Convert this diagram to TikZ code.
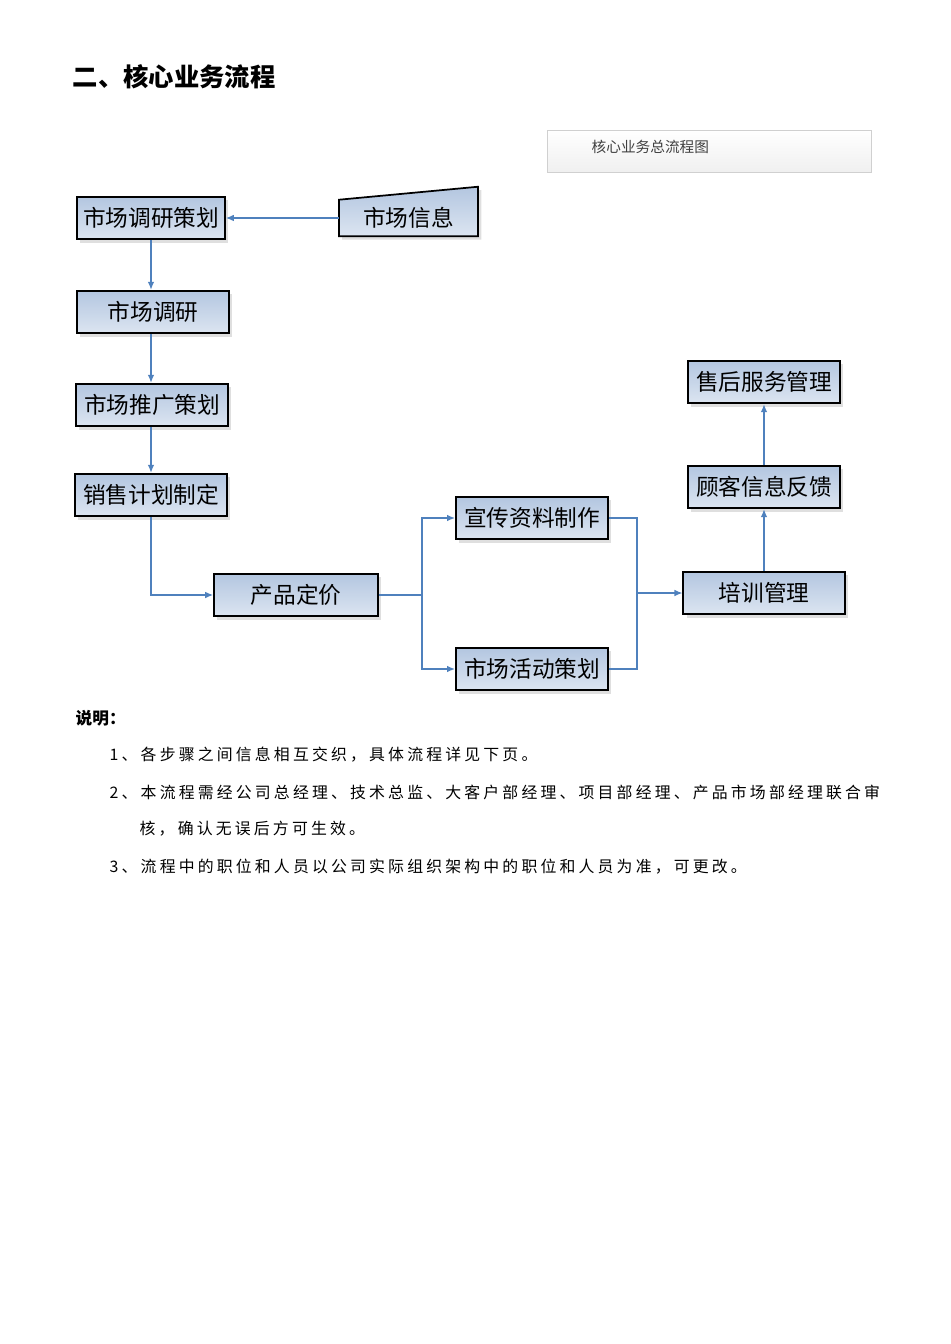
\documentclass[tikz,border=0pt]{standalone}
\usepackage{fontspec}
\setmainfont{Noto Sans CJK SC}
\newfontfamily\notefont[LetterSpace=20]{Noto Sans CJK SC}
\usepackage{tikz}
\usetikzlibrary{shapes,arrows.meta,positioning,shadows,calc}

\definecolor{flowline}{HTML}{4F81BD}
\definecolor{boxtop}{HTML}{B3C6E0}
\definecolor{boxbot}{HTML}{DCE5F1}
\definecolor{headgray}{HTML}{D0D0D0}

\begin{document}
\begin{tikzpicture}[
    x=0.75pt, y=-0.75pt,
    stepbox/.style={draw, line width=1.3pt, top color=boxtop, bottom color=boxbot,
        minimum width=114pt, minimum height=32pt, inner sep=0pt,
        font=\fontsize{17}{20}\selectfont,
        drop shadow={shadow xshift=2.5pt, shadow yshift=-2.5pt, opacity=0.25}},
    flow/.style={draw=flowline, line width=1pt, -{Latex[length=6pt,width=5pt]}},
    link/.style={draw=flowline, line width=1.4pt}
]
\useasboundingbox (0,0) rectangle (950,1344);

% title and header
\node[anchor=west, font=\fontsize{19}{22}\selectfont\bfseries] (title) at (68,77) {二、核心业务流程};
\node[draw=headgray, top color=white, bottom color=gray!12, minimum width=243pt, minimum height=31.5pt] (head) at (709,151) {};
\node[anchor=west, text=black!75, font=\fontsize{11}{13}\selectfont] (headtxt) at (587,147) {核心业务总流程图};

% left column
\node[stepbox, minimum width=111pt] (plan) at (151,218) {市场调研策划};
\node[stepbox] (research) at (153,312) {市场调研};
\node[stepbox] (promo) at (152,405) {市场推广策划};
\node[stepbox] (sales) at (151,495) {销售计划制定};

% market info (manual input shape)
\node[minimum width=104pt, minimum height=27pt, inner sep=0pt] (info) at (408.5,218) {};
\path[draw, line width=1.3pt, top color=boxtop, bottom color=boxbot,
      drop shadow={shadow xshift=2.5pt, shadow yshift=-2.5pt, opacity=0.25}]
    (info.south west) -- (info.north west) -- ([yshift=9.75pt]info.north east)
    -- (info.south east) -- cycle;
\node[font=\fontsize{17}{20}\selectfont] at (info) {市场信息};

% middle
\node[stepbox, minimum width=123pt] (pricing) at (296,595) {产品定价};
\node[stepbox] (publicity) at (532,518) {宣传资料制作};
\node[stepbox] (activity) at (532,669) {市场活动策划};

% right column
\node[stepbox, minimum width=121pt] (training) at (764,593) {培训管理};
\node[stepbox] (feedback) at (764,487) {顾客信息反馈};
\node[stepbox] (aftersales) at (764,382) {售后服务管理};

% connectors
\coordinate (split) at (422,595);
\coordinate (merge) at (637,593);
\draw[flow] (info.west) -- (plan.east);
\draw[flow] (plan.south) -- (plan.south |- research.north);
\draw[flow] (research.south -| plan.south) -- (plan.south |- promo.north);
\draw[flow] (promo.south -| plan.south) -- (plan.south |- sales.north);
\draw[flow] (sales.south) |- (pricing.west);
\draw[link, line width=1pt] (pricing.east) -- (split);
\draw[flow, line width=1.4pt] (split) |- (publicity.west);
\draw[flow, line width=1.4pt] (split) |- (activity.west);
\draw[link] (publicity.east) -| (merge);
\draw[link] (activity.east) -| (merge);
\draw[flow] (merge) -- (training.west);
\draw[flow] (training.north) -- (feedback.south);
\draw[flow] (feedback.north) -- (aftersales.south);

% notes
\node[anchor=west, font=\fontsize{12.5}{15}\selectfont\bfseries] (notehead) at (71,718) {说明：};
\node[anchor=west, font=\fontsize{11.9}{14}\notefont] (note1) at (105,755) {1、各步骤之间信息相互交织，具体流程详见下页。};
\node[anchor=west, font=\fontsize{11.9}{14}\notefont] (note2) at (105,792) {2、本流程需经公司总经理、技术总监、大客户部经理、项目部经理、产品市场部经理联合审};
\node[anchor=west, font=\fontsize{11.9}{14}\notefont] (note2b) at (135,829) {核，确认无误后方可生效。};
\node[anchor=west, font=\fontsize{11.9}{14}\notefont] (note3) at (105,867) {3、流程中的职位和人员以公司实际组织架构中的职位和人员为准，可更改。};
\end{tikzpicture}
\end{document}
